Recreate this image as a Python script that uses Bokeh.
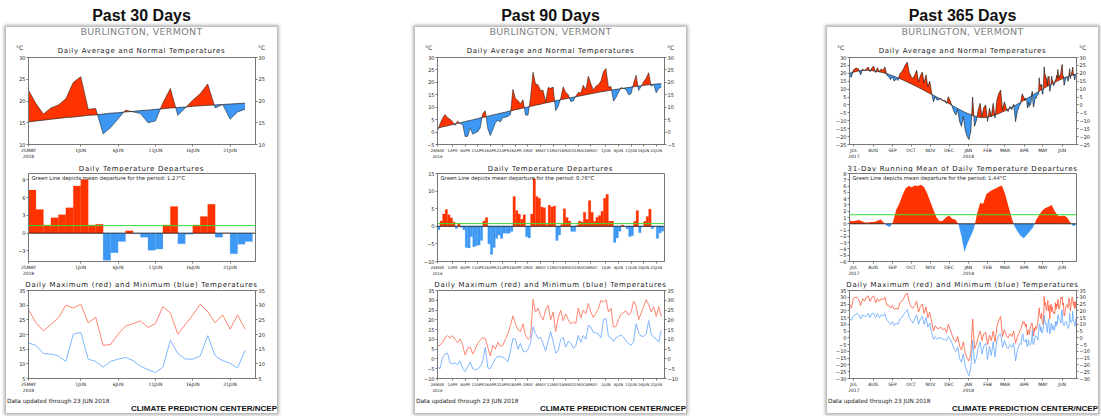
import numpy as np
from bokeh.plotting import figure
from bokeh.models import Range1d, LinearAxis, FixedTicker, Label, Span, Div, Spacer, ColumnDataSource
from bokeh.layouts import column, row
from bokeh.embed import file_html
from bokeh.resources import INLINE

# ---------------- data ----------------
panel_titles = ["Past 30 Days", "Past 90 Days", "Past 365 Days"]
station = "BURLINGTON, VERMONT"
footer_left = "Data updated through 23 JUN 2018"
footer_right = "CLIMATE PREDICTION CENTER/NCEP"

# 90 days: 26 Mar 2018 .. 23 Jun 2018 (last 30 = past 30 days)
normal_90 = [1.6, 1.8, 2.1, 2.3, 2.5, 2.8, 3.0, 3.3, 3.5, 3.7,
             4.0, 4.2, 4.5, 4.7, 4.9, 5.2, 5.4, 5.7, 5.9, 6.1,
             6.4, 6.6, 6.9, 7.1, 7.3, 7.6, 7.8, 8.0, 8.3, 8.5,
             8.7, 9.0, 9.2, 9.4, 9.7, 9.9, 10.1, 10.3, 10.6, 10.8,
             11.0, 11.2, 11.5, 11.7, 11.9, 12.1, 12.3, 12.6, 12.8, 13.0,
             13.2, 13.4, 13.6, 13.8, 14.0, 14.2, 14.4, 14.6, 14.8, 15.0,
             15.2, 15.4, 15.6, 15.8, 16.0, 16.2, 16.3, 16.5, 16.7, 16.8,
             17.0, 17.2, 17.3, 17.5, 17.6, 17.8, 17.9, 18.1, 18.2, 18.4,
             18.5, 18.6, 18.8, 18.9, 19.0, 19.1, 19.2, 19.3, 19.4, 19.5]
dep_90 = [-1.0, 1.5, 3.5, 4.8, 3.3, 2.4, 1.2, -0.6, 0.9, -0.3,
          -1.0, -6.0, -6.2, -3.0, -5.8, -5.5, -5.3, -4.0, 1.5, 2.5,
          -5.0, -8.0, -6.0, -3.5, -2.5, -3.5, -2.0, -2.0, -2.0, -1.5,
          8.5, 4.5, 3.5, 2.0, 3.3, -3.0, -3.3, 3.5, 13.5, 8.5,
          8.0, 5.5, 5.3, 0.5, 6.0, 5.5, 5.8, -4.0, -2.5, 0.5,
          5.0, 2.5, 1.5, -1.5, -1.5, 0.2, 1.5, 1.2, 4.0, 2.0,
          7.3, 4.0, 1.4, 2.6, 3.1, 4.3, 8.0, 9.1, 1.4, 1.5,
          -4.6, -3.3, -1.4, 0.4, -0.1, -0.7, -2.9, -2.7, 1.4, 4.5,
          -1.8, -0.2, 1.4, 2.8, 4.9, -0.7, 0.0, -3.5, -1.9, -1.4]
tmax_90 = [6.5, 7.0, 8.6, 11.0, 11.9, 10.8, 11.9, 10.0, 8.3, 10.3,
           7.0, 2.0, 5.5, 6.0, 2.5, 5.0, 8.0, 9.5, 11.0, 10.5,
           6.0, 1.5, 7.0, 5.0, 8.5, 6.5, 7.0, 10.0, 13.0, 17.0,
           22.0, 18.0, 15.0, 14.0, 18.0, 12.0, 10.0, 11.0, 30.5, 24.0,
           26.0, 22.0, 20.0, 25.0, 27.5, 20.0, 24.0, 14.0, 21.0, 25.0,
           19.5, 23.0, 20.0, 18.0, 19.0, 18.0, 26.0, 21.0, 25.0, 23.0,
           28.4, 24.0, 21.2, 23.4, 25.7, 30.0, 29.0, 30.3, 24.0, 25.9,
           16.3, 16.6, 20.1, 22.9, 23.7, 24.6, 22.4, 23.7, 29.5, 27.3,
           20.1, 23.4, 26.7, 30.3, 27.8, 24.0, 26.7, 21.8, 26.7, 21.8]
tmin_90 = [-4.0, -5.0, 0.5, 2.5, 3.0, -2.0, -2.5, -2.0, -3.0, -1.0,
           -5.0, -6.5, -4.0, -1.5, -5.0, -5.5, -5.0, -4.0, -1.0, 6.0,
           -4.5, -5.0, -2.5, 0.0, 1.5, 1.0, 1.0, 0.0, -1.5, 4.0,
           10.5, 10.0, 5.0, 8.0, 4.0, 3.5, 5.0, 8.0, 16.5, 13.0,
           10.5, 11.0, 8.0, 4.0, 9.0, 14.0, 9.0, 3.0, 4.0, 10.0,
           11.0, 6.0, 9.0, 8.0, 5.5, 6.5, 12.0, 8.5, 12.0, 10.0,
           17.1, 16.3, 13.5, 13.3, 12.7, 10.8, 20.1, 20.7, 11.6, 10.8,
           8.9, 10.8, 11.6, 12.2, 11.1, 9.2, 8.0, 7.0, 8.9, 18.0,
           13.5, 11.6, 11.6, 12.7, 19.6, 12.7, 11.1, 10.2, 8.6, 14.6]

# 365 days: 24 Jun 2017 .. 25 Mar 2018 every 3rd day (then daily 90-day data)
normal_365_early = [20.0, 20.4, 20.7, 21.0, 21.3, 21.5, 21.7, 21.8, 21.9, 21.9,
                    21.9, 21.8, 21.7, 21.5, 21.3, 21.1, 20.9, 20.7, 20.4, 20.1,
                    19.8, 19.4, 19.0, 18.5, 18.1, 17.6, 17.1, 16.6, 16.1, 15.6,
                    15.0, 14.5, 13.9, 13.4, 12.8, 12.2, 11.6, 11.0, 10.4, 9.8,
                    9.2, 8.5, 7.9, 7.3, 6.7, 6.1, 5.5, 4.8, 4.2, 3.6,
                    3.0, 2.3, 1.7, 1.1, 0.4, -0.3, -1.0, -1.6, -2.3, -2.9,
                    -3.5, -4.1, -4.7, -5.2, -5.7, -6.2, -6.6, -7.0, -7.4, -7.7,
                    -7.9, -8.0, -8.0, -7.9, -7.7, -7.4, -7.1, -6.7, -6.3, -5.9,
                    -5.4, -4.9, -4.4, -3.9, -3.3, -2.7, -2.1, -1.5, -0.9, -0.2,
                    0.5, 1.2]
avg_365_early = [19.0, 17.5, 22.0, 23.0, 23.3, 22.5, 19.0, 22.8, 21.5, 22.8,
                 24.0, 21.0, 23.5, 24.4, 20.5, 23.5, 21.0, 22.8, 21.8, 24.0,
                 18.8, 18.0, 16.0, 17.8, 15.0, 16.5, 15.5, 19.8, 20.8, 23.0,
                 25.5, 27.0, 20.5, 18.0, 16.7, 19.0, 21.9, 14.6, 18.5, 20.8,
                 14.0, 19.0, 11.5, 15.0, 8.0, 2.0, 5.2, 3.0, 3.5, 4.2,
                 2.5, 3.0, 1.0, 5.2, 2.5, -1.0, -4.2, -6.3, -3.0, -10.4,
                 -13.5, -7.3, -15.6, -19.8, -21.9, -16.7, 5.0, -13.5, -10.0, -3.1,
                 1.0, -7.3, -1.5, 0.0, -10.4, -2.1, -7.3, 1.0, -8.3, 3.1,
                 7.3, 9.4, -3.1, 2.0, -2.0, -4.2, -1.0, -3.0, 0.5, -10.5,
                 -4.0, -0.5]
tmax_365_early = [25, 22, 29, 30, 30, 28, 24, 29, 27, 30,
                  31, 27, 30, 31, 26, 29, 27, 29, 28, 30,
                  24, 24, 22, 24, 21, 22, 21, 26, 27, 29,
                  32, 33, 26, 23, 22, 24, 27, 19, 23, 25,
                  18, 23, 15, 19, 12, 5, 9, 7, 7, 8,
                  6, 7, 4, 10, 6, 2, -1, -3, 1, -6,
                  -9, -3, -11, -15, -17, -12, 14, -8, -5, 1,
                  5, -2, 3, 4, -5, 2, -2, 5, -3, 8,
                  13, 16, 1, 6, 2, 0, 3, 1, 5, -4,
                  1, 4]
tmin_365_early = [14, 13, 16, 17, 18, 17, 14, 17, 16, 16,
                  18, 15, 18, 18, 15, 18, 15, 17, 16, 18,
                  13, 12, 10, 12, 9, 11, 10, 14, 15, 17,
                  19, 21, 15, 13, 11, 14, 17, 10, 14, 16,
                  10, 15, 8, 11, 4, -1, 1, -1, 0, 0,
                  -1, -1, -2, 1, -1, -4, -8, -10, -7, -15,
                  -18, -12, -21, -25, -28, -22, -2, -19, -15, -7,
                  -3, -12, -6, -4, -16, -6, -13, -3, -14, -2,
                  2, 3, -7, -2, -6, -8, -5, -7, -4, -17,
                  -9, -5]
# 31-day running mean of departures, every 5th day
running_365 = [0.5, 0.4, 0.5, 0.6, 0.4, 0.2, 0.2, 0.3, 0.3, 0.5,
               0.7, 0.2, -0.3, -0.5, 0.3, 2.2, 3.2, 4.5, 5.6, 6.0,
               5.8, 6.1, 6.0, 6.2, 5.8, 4.8, 3.5, 2.2, 1.0, 0.4,
               0.5, 1.0, 1.3, 0.8, 0.7, 0.0, -2.0, -4.5, -3.0, -2.0,
               -0.8, 1.5, 3.3, 3.2, 4.7, 5.1, 5.4, 5.6, 5.9, 6.1,
               4.8, 3.0, 1.2, -0.3, -1.2, -1.9, -2.3, -1.8, -1.2, -0.6,
               0.6, 1.4, 2.1, 2.5, 2.7, 3.0, 2.0, 1.3, 1.2, 1.3,
               1.0, 0.2, -0.4, -0.1]
mean_dep = [1.27, 0.76, 1.44]

ticks_30 = [0, 7, 12, 17, 22, 27]
labels_30 = ["25MAY\n2018", "1JUN", "6JUN", "11JUN", "16JUN", "21JUN"]
ticks_90 = [0, 6, 11, 16, 21, 26, 31, 36, 41, 46, 51, 56, 61, 67, 72, 77, 82, 87]
labels_90 = ["26MAR\n2018", "1APR", "6APR", "11APR", "16APR", "21APR", "26APR", "1MAY", "6MAY",
             "11MAY", "16MAY", "21MAY", "26MAY", "1JUN", "6JUN", "11JUN", "16JUN", "21JUN"]
ticks_365 = [7, 38, 69, 99, 130, 160, 191, 222, 250, 281, 311, 342]
labels_365 = ["JUL\n2017", "AUG", "SEP", "OCT", "NOV", "DEC", "JAN\n2018", "FEB", "MAR", "APR", "MAY", "JUN"]

# ---------------- derived series ----------------
normal_90 = np.array(normal_90); dep_90 = np.array(dep_90)
avg_90 = normal_90 + dep_90
x90 = np.arange(90)
x30 = np.arange(30)
x365 = np.array(list(range(0, 274, 3)) + list(range(275, 365)))
avg_365 = np.array(avg_365_early + list(avg_90))
normal_365 = np.array(normal_365_early + list(normal_90))
tmax_365 = np.array(tmax_365_early + tmax_90)
tmin_365 = np.array(tmin_365_early + tmin_90)
run_days = np.array(list(range(0, 361, 5)) + [364])

RED = "#ff3300"; BLUE = "#3d98f4"
MAXC = "#ff8470"; MINC = "#80b6ff"
FONT = "DejaVu Sans"
ML, MR, FW = 22, 22, 227
PW = ML + FW + MR   # 271


def make_fig(h, top, bottom, xr, yr):
    p = figure(width=PW, height=h, x_range=Range1d(*xr), y_range=Range1d(*yr),
               x_axis_type=None, y_axis_type=None, output_backend="svg",
               toolbar_location=None, min_border_left=ML, min_border_right=MR,
               min_border_top=top, min_border_bottom=bottom)
    p.outline_line_color = "#777777"
    p.background_fill_color = "white"
    p.border_fill_color = "white"
    return p


def add_axis(p, side, ticks, labels=None, size="5px"):
    ax = LinearAxis(ticker=FixedTicker(ticks=ticks))
    ax.major_label_text_font_size = size
    ax.major_label_text_font = FONT
    ax.major_label_text_color = "#222222"
    ax.axis_line_color = "#777777"
    ax.major_tick_line_color = "#777777"
    ax.major_tick_out = 2
    ax.major_tick_in = 0
    ax.minor_tick_line_color = None
    ax.major_label_standoff = 1
    if labels is not None:
        ax.major_label_overrides = {t: l for t, l in zip(ticks, labels)}
    p.add_layout(ax, side)


def html_div(h, items):
    inner = "".join('<span style="position:absolute;white-space:nowrap;%s">%s</span>' % (css, t)
                    for t, css in items)
    return Div(text='<div style="position:relative;width:%dpx;height:%dpx;">%s</div>' % (PW, h, inner),
               width=PW, height=h, margin=0)


def centered(top, lh, font, color="#222", extra=""):
    return ("left:0;width:%dpx;text-align:center;top:%spx;line-height:%dpx;font:%s;color:%s;%s"
            % (PW, top, lh, font, color, extra))


def anomaly_area(p, x, v, base):
    x = np.asarray(x, float); v = np.asarray(v, float); b = np.asarray(base, float)
    xs, vs, bs = [x[0]], [v[0]], [b[0]]
    for i in range(1, len(x)):
        d0 = v[i - 1] - b[i - 1]; d1 = v[i] - b[i]
        if d0 * d1 < 0:
            t = d0 / (d0 - d1)
            xc = x[i - 1] + t * (x[i] - x[i - 1])
            bc = b[i - 1] + t * (b[i] - b[i - 1])
            xs.append(xc); vs.append(bc); bs.append(bc)
        xs.append(x[i]); vs.append(v[i]); bs.append(b[i])
    xs = np.array(xs); vs = np.array(vs); bs = np.array(bs)
    p.varea(x=xs, y1=bs, y2=np.maximum(vs, bs), fill_color=RED)
    p.varea(x=xs, y1=np.minimum(vs, bs), y2=bs, fill_color=BLUE)


SMALL = "7px 'DejaVu Sans'"
SPACED = "letter-spacing:0.7px"


def panel(k, x, avg, normal, dep, tmax, tmin, xr, ticks, labels, xsize,
          yr1, yt1, yr2, yt2, yr3, yt3, dep_title, running=None, run_x=None):
    hdr1 = html_div(27, [
        (station, centered(-1, 10, "9.5px 'DejaVu Sans'", "#808080", "letter-spacing:0.3px")),
        ("\u00b0C", "left:10px;top:17px;line-height:7px;font:6px 'DejaVu Sans';color:#222"),
        ("\u00b0C", "left:252px;top:17px;line-height:7px;font:6px 'DejaVu Sans';color:#222"),
        ("Daily Average and Normal Temperatures", centered(19.5, 8, SMALL, "#222", SPACED)),
    ])
    # --- plot 1
    f1 = make_fig(107, 3, 16, xr, yr1)
    anomaly_area(f1, x, avg, normal)
    f1.line(x, avg, line_color="#111111", line_width=0.6 if k == 2 else 0.5)
    f1.line(x, normal, line_color="#222222", line_width=0.7)
    add_axis(f1, "left", yt1); add_axis(f1, "right", yt1)
    add_axis(f1, "below", ticks, labels, xsize)

    hdr2 = html_div(10, [(dep_title, centered(2, 8, SMALL, "#222", SPACED))])
    # --- plot 2
    f2 = make_fig(107, 2, 14, xr, yr2)
    if running is None:
        d = np.asarray(dep)
        src = ColumnDataSource(dict(x=np.asarray(x) + 0.5, top=d,
                                    c=[RED if v >= 0 else BLUE for v in d]))
        f2.vbar(x="x", top="top", bottom=0, width=1.0, source=src,
                fill_color="c", line_color="c", line_width=0.2)
    else:
        anomaly_area(f2, run_x, running, np.zeros(len(running)))
    f2.add_layout(Span(location=0, dimension="width", line_color="#111111", line_width=0.8))
    f2.add_layout(Span(location=mean_dep[k], dimension="width", line_color="#33dd33", line_width=1))
    add_axis(f2, "left", yt2)
    add_axis(f2, "below", ticks, labels, xsize)
    f2.add_layout(Label(x=3, y=91 - 7, x_units="screen", y_units="screen",
                        text="Green Line depicts mean departure for the period: %.2f\u00b0C" % mean_dep[k],
                        text_font_size="5.3px", text_font=FONT, text_align="left",
                        text_baseline="middle", text_color="#222222"))

    hdr3 = html_div(10, [("Daily Maximum (red) and Minimum (blue) Temperatures",
                          centered(0.5, 8, SMALL, "#222", SPACED))])
    # --- plot 3
    f3 = make_fig(107, 2, 14, xr, yr3)
    lw = 0.8 if k == 2 else 1.0
    f3.line(x, tmax, line_color=MAXC if k < 2 else "#ff5a3c", line_width=lw)
    f3.line(x, tmin, line_color=MINC if k < 2 else "#63a6ff", line_width=lw)
    add_axis(f3, "left", yt3); add_axis(f3, "right", yt3)
    add_axis(f3, "below", ticks, labels, xsize)

    foot = html_div(18, [
        (footer_left, "left:1px;top:2.5px;line-height:7px;font:5.8px 'DejaVu Sans';color:#222"),
        (footer_right, "right:0px;top:9px;line-height:9px;font:bold 8px 'Liberation Sans',Arial;color:#111"),
    ])

    title = html_div(27, [(panel_titles[k],
                           centered(7, 16, "bold 16px 'Liberation Sans',Arial,sans-serif", "#111"))])
    box = column(hdr1, f1, hdr2, f2, hdr3, f3, foot, spacing=0,
                 styles={"background-color": "white",
                         "box-shadow": "0px 0px 3px 2px rgba(0,0,0,0.30)"})
    return column(title, box, spacing=0)


p1 = panel(0, x30, avg_90[60:], normal_90[60:], dep_90[60:], tmax_90[60:], tmin_90[60:],
           (0, 30.4), ticks_30, labels_30, "4.5px",
           (10, 30), [10, 15, 20, 25, 30], (-4.8, 10.1), [-3, 0, 3, 6, 9],
           (5, 35), [5, 10, 15, 20, 25, 30, 35], "Daily Temperature Departures")
p2 = panel(1, x90, avg_90, normal_90, dep_90, tmax_90, tmin_90,
           (0, 90.3), ticks_90, labels_90, "3.8px",
           (-5, 30), [-5, 0, 5, 10, 15, 20, 25, 30], (-10, 15), [-10, -5, 0, 5, 10, 15],
           (-10, 35), [-10, -5, 0, 5, 10, 15, 20, 25, 30, 35], "Daily Temperature Departures")
p3 = panel(2, x365, avg_365, normal_365, None, tmax_365, tmin_365,
           (0, 365), ticks_365, labels_365, "4.5px",
           (-25, 30), list(range(-25, 31, 5)), (-6, 8), list(range(-6, 9)),
           (-30, 35), list(range(-30, 36, 5)),
           "31-Day Running Mean of Daily Temperature Departures",
           running=running_365, run_x=run_days)

layout = row(Spacer(width=6, height=10, margin=0), p1,
             Spacer(width=138, height=10, margin=0), p2,
             Spacer(width=141, height=10, margin=0), p3, spacing=0)

with open("out.html", "w") as fh:
    fh.write(file_html(layout, INLINE))
